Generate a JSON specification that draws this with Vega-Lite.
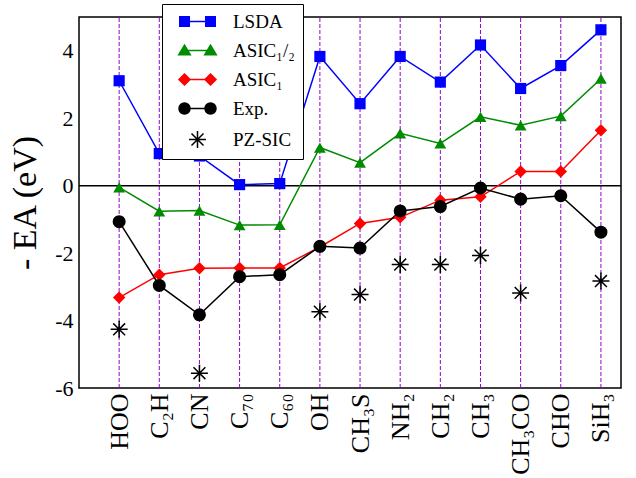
{
  "$schema": "https://vega.github.io/schema/vega-lite/v6.json",
  "width": 542,
  "height": 371,
  "autosize": {"type": "none"},
  "padding": {"left": 79, "top": 17, "right": 15, "bottom": 90},
  "background": "white",
  "config": {
    "font": "Liberation Serif",
    "view": {"stroke": "black", "strokeWidth": 1.5},
    "axis": {"grid": false, "domain": false, "labelFont": "Liberation Serif", "titleFont": "Liberation Serif", "labelColor": "black", "titleColor": "black"},
    "legend": {"orient": "none", "legendX": 83, "legendY": -13, "title": null, "strokeColor": "black", "fillColor": "white", "padding": 8,
      "labelFont": "Liberation Serif", "labelFontSize": 19, "labelColor": "black", "symbolSize": 100, "symbolOffset": 5, "labelOffset": 39, "rowPadding": 9, "symbolStrokeWidth": 1.5, "symbolOpacity": 1}
  },
  "data": {"values": [
    {"i": 1, "s": "LSDA", "v": 3.11}, {"i": 2, "s": "LSDA", "v": 0.95}, {"i": 3, "s": "LSDA", "v": 0.88}, {"i": 4, "s": "LSDA", "v": 0.03}, {"i": 5, "s": "LSDA", "v": 0.06}, {"i": 6, "s": "LSDA", "v": 3.83}, {"i": 7, "s": "LSDA", "v": 2.43}, {"i": 8, "s": "LSDA", "v": 3.83}, {"i": 9, "s": "LSDA", "v": 3.07}, {"i": 10, "s": "LSDA", "v": 4.17}, {"i": 11, "s": "LSDA", "v": 2.88}, {"i": 12, "s": "LSDA", "v": 3.56}, {"i": 13, "s": "LSDA", "v": 4.62},
    {"i": 1, "s": "ASIC₁/₂", "v": -0.05}, {"i": 2, "s": "ASIC₁/₂", "v": -0.76}, {"i": 3, "s": "ASIC₁/₂", "v": -0.74}, {"i": 4, "s": "ASIC₁/₂", "v": -1.17}, {"i": 5, "s": "ASIC₁/₂", "v": -1.16}, {"i": 6, "s": "ASIC₁/₂", "v": 1.13}, {"i": 7, "s": "ASIC₁/₂", "v": 0.68}, {"i": 8, "s": "ASIC₁/₂", "v": 1.55}, {"i": 9, "s": "ASIC₁/₂", "v": 1.25}, {"i": 10, "s": "ASIC₁/₂", "v": 2.04}, {"i": 11, "s": "ASIC₁/₂", "v": 1.79}, {"i": 12, "s": "ASIC₁/₂", "v": 2.06}, {"i": 13, "s": "ASIC₁/₂", "v": 3.17},
    {"i": 1, "s": "ASIC₁", "v": -3.32}, {"i": 2, "s": "ASIC₁", "v": -2.64}, {"i": 3, "s": "ASIC₁", "v": -2.45}, {"i": 4, "s": "ASIC₁", "v": -2.44}, {"i": 5, "s": "ASIC₁", "v": -2.44}, {"i": 6, "s": "ASIC₁", "v": -1.82}, {"i": 7, "s": "ASIC₁", "v": -1.12}, {"i": 8, "s": "ASIC₁", "v": -0.94}, {"i": 9, "s": "ASIC₁", "v": -0.43}, {"i": 10, "s": "ASIC₁", "v": -0.33}, {"i": 11, "s": "ASIC₁", "v": 0.42}, {"i": 12, "s": "ASIC₁", "v": 0.42}, {"i": 13, "s": "ASIC₁", "v": 1.64},
    {"i": 1, "s": "Exp.", "v": -1.07}, {"i": 2, "s": "Exp.", "v": -2.96}, {"i": 3, "s": "Exp.", "v": -3.83}, {"i": 4, "s": "Exp.", "v": -2.70}, {"i": 5, "s": "Exp.", "v": -2.64}, {"i": 6, "s": "Exp.", "v": -1.80}, {"i": 7, "s": "Exp.", "v": -1.85}, {"i": 8, "s": "Exp.", "v": -0.75}, {"i": 9, "s": "Exp.", "v": -0.62}, {"i": 10, "s": "Exp.", "v": -0.07}, {"i": 11, "s": "Exp.", "v": -0.40}, {"i": 12, "s": "Exp.", "v": -0.30}, {"i": 13, "s": "Exp.", "v": -1.38},
    {"i": 1, "s": "PZ-SIC", "v": -4.26}, {"i": 3, "s": "PZ-SIC", "v": -5.56}, {"i": 6, "s": "PZ-SIC", "v": -3.74}, {"i": 7, "s": "PZ-SIC", "v": -3.23}, {"i": 8, "s": "PZ-SIC", "v": -2.34}, {"i": 9, "s": "PZ-SIC", "v": -2.34}, {"i": 10, "s": "PZ-SIC", "v": -2.07}, {"i": 11, "s": "PZ-SIC", "v": -3.18}, {"i": 13, "s": "PZ-SIC", "v": -2.83}
  ]},
  "encoding": {
    "x": {"field": "i", "type": "quantitative", "title": null, "scale": {"domain": [0, 13.5], "nice": false, "zero": false},
      "axis": {"values": [1,2,3,4,5,6,7,8,9,10,11,12,13], "ticks": false, "labelAngle": 270, "labelAlign": "right", "labelBaseline": "middle", "labelFont": "Liberation Serif", "labelFontSize": 26, "labelPadding": 5, "labelOverlap": false, "labelFlush": false,
        "labelExpr": "['', 'HOO', 'C₂H', 'CN', 'C₇₀', 'C₆₀', 'OH', 'CH₃S', 'NH₂', 'CH₂', 'CH₃', 'CH₃CO', 'CHO', 'SiH₃'][datum.value]"}},
    "y": {"field": "v", "type": "quantitative", "title": "- EA (eV)", "scale": {"domain": [-6, 5], "nice": false, "zero": false},
      "axis": {"orient": "left", "titleFont": "Liberation Serif", "titleFontSize": 34, "titleFontWeight": "normal", "titlePadding": 12, "tickSize": 1, "tickColor": "#444", "labelPadding": 5, "labelFont": "Liberation Serif", "labelFontSize": 22, "labelOverlap": false,
        "values": [-6,-5,-4,-3,-2,-1,0,1,2,3,4],
        "labelExpr": "datum.value % 2 === 0 ? '' + datum.value : ''",
        "encode": {"ticks": {"update": {"x2": {"value": {"expr": "datum.value % 2 === 0 ? 8 : 4"}}}}}}}
  },
  "resolve": {"scale": {"shape": "independent", "fill": "independent", "stroke": "independent"}},
  "layer": [
    {
      "transform": [{"filter": "datum.s === 'LSDA'"}],
      "mark": {"type": "rule", "color": "#9400D3", "strokeWidth": 1, "strokeDash": [4, 2]},
      "encoding": {
        "y": {"datum": -6, "type": "quantitative"},
        "y2": {"datum": 5}
      }
    },
    {
      "transform": [{"filter": "datum.s === 'LSDA' && datum.i === 1"}],
      "mark": {"type": "rule", "color": "black", "strokeWidth": 1.5},
      "encoding": {
        "x": {"datum": 0, "type": "quantitative"},
        "x2": {"datum": 13.5},
        "y": {"datum": 0, "type": "quantitative"}
      }
    },
    {
      "transform": [{"filter": "datum.s !== 'PZ-SIC'"}],
      "mark": {"type": "line", "strokeWidth": 1.5},
      "encoding": {
        "color": {"field": "s", "type": "nominal", "legend": null,
          "scale": {"domain": ["LSDA", "ASIC₁/₂", "ASIC₁", "Exp.", "PZ-SIC"], "range": ["#0000ff", "#008b00", "#ff0000", "#000000", "#000000"]}}
      }
    },
    {
      "transform": [{"filter": "datum.s !== 'PZ-SIC'"}],
      "mark": {"type": "point", "filled": true, "opacity": 1},
      "encoding": {
        "color": {"field": "s", "type": "nominal", "legend": null},
        "shape": {"field": "s", "type": "nominal", "legend": null,
          "scale": {"domain": ["LSDA", "ASIC₁/₂", "ASIC₁", "Exp."], "range": ["square", "triangle-up", "diamond", "circle"]}},
        "size": {"field": "s", "type": "ordinal", "legend": null,
          "scale": {"domain": ["LSDA", "ASIC₁/₂", "ASIC₁", "Exp."], "range": [125, 170, 130, 140]}}
      }
    },
    {
      "transform": [{"filter": "datum.s === 'PZ-SIC'"}],
      "mark": {"type": "point", "filled": false, "stroke": "black", "strokeWidth": 1.5, "opacity": 1, "size": 289,
        "shape": "M-1,0H1M0,-1V1M-0.7,-0.7L0.7,0.7M-0.7,0.7L0.7,-0.7"},
      "encoding": {}
    },
    {
      "transform": [{"filter": "datum.i === 0"}],
      "mark": {"type": "point", "filled": true, "size": 100, "strokeWidth": 1.5, "opacity": 1},
      "encoding": {
        "fill": {"field": "s", "type": "nominal",
          "legend": {"labelFont": "Liberation Serif", "labelFontSize": 19, "rowPadding": 9, "encode": {"labels": {"update": {"fontSize": {"value": 19}, "font": {"value": "Liberation Serif"}}}}},
          "scale": {"domain": ["LSDA", "ASIC₁/₂", "ASIC₁", "Exp.", "PZ-SIC"], "range": ["#0000ff", "#008b00", "#ff0000", "#000000", "#000000"]}},
        "stroke": {"field": "s", "type": "nominal",
          "legend": {"labelFont": "Liberation Serif", "labelFontSize": 19, "rowPadding": 9, "encode": {"labels": {"update": {"fontSize": {"value": 19}, "font": {"value": "Liberation Serif"}}}}},
          "scale": {"domain": ["LSDA", "ASIC₁/₂", "ASIC₁", "Exp.", "PZ-SIC"], "range": ["#0000ff", "#008b00", "#ff0000", "#000000", "#000000"]}},
        "shape": {"field": "s", "type": "nominal",
          "legend": {"labelFont": "Liberation Serif", "labelFontSize": 19, "rowPadding": 9, "encode": {"labels": {"update": {"fontSize": {"value": 19}, "font": {"value": "Liberation Serif"}}}}},
          "scale": {"domain": ["LSDA", "ASIC₁/₂", "ASIC₁", "Exp.", "PZ-SIC"],
            "range": [
              "M-0.95,-0.95H0.95V0.95H-0.95Z M4.25,-0.95H6.15V0.95H4.25Z M0,0H5.2",
              "M0,-1.05L1.15,0.85H-1.15Z M5.2,-1.05L6.35,0.85H4.05Z M0,0H5.2",
              "M0,-1.1L1.1,0L0,1.1L-1.1,0Z M5.2,-1.1L6.3,0L5.2,1.1L4.1,0Z M0,0H5.2",
              "M-1.1,0A1.1,1.1 0 1,0 1.1,0A1.1,1.1 0 1,0 -1.1,0Z M4.1,0A1.1,1.1 0 1,0 6.3,0A1.1,1.1 0 1,0 4.1,0Z M0,0H5.2",
              "M0.9,0H4.3M2.6,-1.7V1.7M1.4,-1.2L3.8,1.2M1.4,1.2L3.8,-1.2"
            ]}}
      }
    }
  ]
}
